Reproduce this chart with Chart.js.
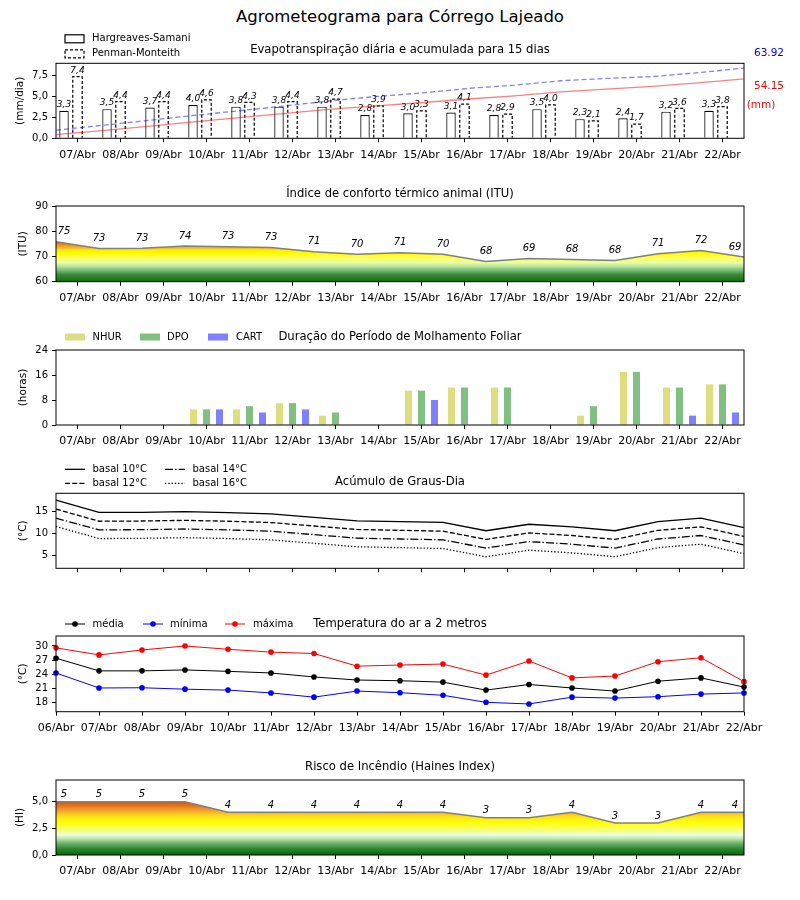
<!DOCTYPE html>
<html>
<head>
<meta charset="utf-8">
<script src="https://cdn.jsdelivr.net/npm/chart.js@4.4.0/dist/chart.umd.min.js"></script>
<style>
  body { margin: 0; background: #fff; width: 800px; height: 900px; position: relative; overflow: hidden; font-family: "DejaVu Sans", sans-serif; }
  #title { position: absolute; top: 7px; left: 0; width: 800px; text-align: center; font-size: 16.5px; color: #000; }
  canvas { position: absolute; left: 0; }
</style>
</head>
<body>
<div id="title">Agrometeograma para Córrego Lajeado</div>
<canvas id="c1"></canvas>
<canvas id="c1b"></canvas>
<canvas id="c2"></canvas>
<canvas id="c3"></canvas>
<canvas id="c4"></canvas>
<canvas id="c5"></canvas>
<canvas id="c6"></canvas>
<script>
// ── Data ───────────────────────────────────────────
const DAYS = ['07/Abr', '08/Abr', '09/Abr', '10/Abr', '11/Abr', '12/Abr', '13/Abr', '14/Abr',
              '15/Abr', '16/Abr', '17/Abr', '18/Abr', '19/Abr', '20/Abr', '21/Abr', '22/Abr'];
const DAYS17 = ['06/Abr'].concat(DAYS);

// evapotranspiration (mm/dia) and accumulated (mm)
const etHargreaves = [3.3, 3.5, 3.7, 4.0, 3.8, 3.8, 3.8, 2.8, 3.0, 3.1, 2.8, 3.5, 2.3, 2.4, 3.2, 3.3];
const etPenman     = [7.4, 4.4, 4.4, 4.6, 4.3, 4.4, 4.7, 3.9, 3.3, 4.1, 2.9, 4.0, 2.1, 1.7, 3.6, 3.8];
const accHargreaves = [3.4, 7.0, 10.8, 14.9, 18.8, 22.7, 26.6, 29.5, 32.6, 35.8, 38.7, 42.3, 44.7, 47.2, 50.5, 54.15];
const accPenman     = [7.4, 11.8, 16.2, 20.8, 25.1, 29.5, 34.2, 38.1, 41.4, 45.5, 48.4, 52.4, 54.5, 56.2, 59.8, 63.92];

// thermal comfort index
const itu = [75.8, 73.2, 73.3, 74.1, 73.9, 73.6, 71.9, 70.9, 71.5, 70.9, 68.0, 69.2, 68.8, 68.4, 71.1, 72.4, 69.8];

// leaf wetness (horas)
const wetNhur = [0, 0, 0, 5, 5, 7, 3, 0, 11, 12, 12, 0, 3, 17, 12, 13];
const wetDpo  = [0, 0, 0, 5, 6, 7, 4, 0, 11, 12, 12, 0, 6, 17, 12, 13];
const wetCart = [0, 0, 0, 5, 4, 5, 0, 0, 8, 0, 0, 0, 0, 0, 3, 4];

// degree days
const gd10 = [17.7, 14.85, 14.85, 15.0, 14.8, 14.5, 13.7, 12.9, 12.7, 12.55, 10.6, 12.1, 11.5, 10.6, 12.7, 13.5, 11.3];
const gd12 = [15.6, 12.8, 12.85, 13.0, 12.8, 12.5, 11.7, 10.9, 10.7, 10.5, 8.6, 10.1, 9.5, 8.6, 10.7, 11.5, 9.3];
const gd14 = [13.5, 10.8, 10.85, 11.0, 10.8, 10.5, 9.7, 8.9, 8.7, 8.5, 6.6, 8.1, 7.5, 6.6, 8.7, 9.5, 7.3];
const gd16 = [11.6, 8.8, 8.85, 9.0, 8.8, 8.5, 7.7, 6.9, 6.7, 6.5, 4.6, 6.1, 5.5, 4.6, 6.7, 7.5, 5.3];

// air temperature (°C)
const tMed = [27.4, 24.7, 24.7, 24.9, 24.6, 24.25, 23.4, 22.75, 22.6, 22.3, 20.6, 21.8, 21.05, 20.4, 22.5, 23.2, 21.25];
const tMin = [24.25, 21.05, 21.1, 20.8, 20.6, 20.0, 19.1, 20.4, 20.05, 19.5, 18.0, 17.65, 19.1, 18.9, 19.2, 19.75, 20.0];
const tMax = [29.6, 28.1, 29.15, 30.0, 29.3, 28.7, 28.4, 25.7, 25.95, 26.15, 23.8, 26.8, 23.2, 23.6, 26.65, 27.5, 22.4];

// Haines index
const haines = [5, 5, 5, 5, 4, 4, 4, 4, 4, 4, 3.5, 3.5, 4, 3, 3, 4, 4];

// tick values
const etTicks   = [0, 2.5, 5, 7.5];
const ituTicks  = [60, 70, 80, 90];
const wetTicks  = [0, 8, 16, 24];
const gdTicks   = [5, 10, 15];
const tempTicks = [18, 21, 24, 27, 30];
const hiTicks   = [0, 2.5, 5];

// ── Styles ─────────────────────────────────────────
const FONT = '"DejaVu Sans"';
Chart.defaults.font.family = FONT;
Chart.defaults.font.size = 10;
Chart.defaults.color = '#000';
Chart.defaults.animation = false;

const ituStops = [[60, '#0a640a'], [61, '#1e7a1e'], [62.8, '#3a8a3a'], [64.7, '#80bf80'], [66.3, '#c0e8a0'],
                  [67.6, '#eaffa0'], [69.4, '#ffff60'], [71, '#ffff00'], [72.4, '#ffee00'], [73.2, '#f8c030'],
                  [74.2, '#f0a020'], [75.3, '#e07818'], [76, '#d86a10']];
const hiStops = [[0, '#0a640a'], [0.6, '#2e8a2e'], [1.1, '#70b070'], [1.56, '#c0e8b0'], [1.9, '#f0ffe0'],
                 [2.2, '#f0ff90'], [2.65, '#ffff40'], [3.1, '#ffff00'], [3.6, '#ffe020'], [3.9, '#f8c020'],
                 [4.2, '#f0a030'], [4.5, '#e88020'], [4.85, '#d86010'], [5.1, '#d05a10']];

const comma = v => v.toFixed(1).replace('.', ',');
const X_AXIS_H = 28;

// ── Helpers ────────────────────────────────────────
function setup(id, p) {
  const c = document.getElementById(id);
  c.width = 800; c.height = p.height;
  c.style.top = p.top + 'px';
  return c.getContext('2d');
}

function padding(p) {
  return { left: 0, right: 56, top: p.areaTop - p.top, bottom: p.top + p.height - p.areaBottom - X_AXIS_H };
}

function yAxis(min, max, ticks, fmt, title, titlePad) {
  return {
    min, max,
    afterBuildTicks: s => { s.ticks = ticks.map(v => ({ value: v })); },
    afterFit: s => { s.width = 56; },
    ticks: { callback: v => fmt(v), padding: 4, font: { size: 10 } },
    grid: { drawOnChartArea: false, drawTicks: true, tickLength: 4, color: '#000' },
    border: { display: false },
    title: { display: true, text: title, padding: { top: titlePad, bottom: 0 }, font: { size: 10.5 } }
  };
}

function xAxis(labels, offset, showLabels) {
  return {
    type: 'category', labels, offset, position: 'bottom',
    afterFit: s => { s.height = X_AXIS_H; },
    grid: { offset: false, drawOnChartArea: false, drawTicks: true, tickLength: 4, color: '#000' },
    border: { display: false },
    ticks: {
      font: { size: 11 }, padding: 6, maxRotation: 0, autoSkip: false,
      callback: function (v) { return showLabels ? this.getLabelForValue(v) : ''; }
    }
  };
}

function hiddenX(labels) {
  return { type: 'category', labels, offset: false, display: false, position: 'bottom' };
}

function gradientFill(stops) {
  return function (c) {
    const chart = c.chart;
    const ys = chart.scales.y;
    if (!chart.chartArea || !ys) return 'rgba(0,0,0,0)';
    const v0 = stops[0][0], v1 = stops[stops.length - 1][0];
    const g = chart.ctx.createLinearGradient(0, ys.getPixelForValue(v0), 0, ys.getPixelForValue(v1));
    stops.forEach(s => g.addColorStop((s[0] - v0) / (v1 - v0), s[1]));
    return g;
  };
}

function drawLegend(ctx, items, top) {
  items.forEach(it => {
    const y = it.y - top;
    ctx.save();
    if (it.kind === 'box') {
      ctx.fillStyle = '#fff'; ctx.strokeStyle = '#000'; ctx.lineWidth = 1.2;
      ctx.setLineDash(it.dash || []);
      ctx.fillRect(it.x, y - 4, 19, 8);
      ctx.strokeRect(it.x, y - 4, 19, 8);
    } else if (it.kind === 'swatch') {
      ctx.fillStyle = it.color;
      ctx.fillRect(it.x, y - 3.5, 20, 7);
    } else {
      ctx.strokeStyle = it.color; ctx.lineWidth = it.width || 1.3;
      ctx.setLineDash(it.dash || []);
      ctx.beginPath(); ctx.moveTo(it.x, y); ctx.lineTo(it.x + 20, y); ctx.stroke();
      if (it.marker) {
        ctx.setLineDash([]); ctx.fillStyle = it.color;
        ctx.beginPath(); ctx.arc(it.x + 10, y, 2.8, 0, Math.PI * 2); ctx.fill();
      }
    }
    ctx.restore();
    ctx.fillStyle = '#000';
    ctx.font = '10px ' + FONT;
    ctx.textAlign = 'left'; ctx.textBaseline = 'middle';
    ctx.fillText(it.text, it.tx, y);
  });
}

// frame, title, legend and extra texts of one panel
function decor(p, title, titleY, legend, extra) {
  return {
    id: 'decor',
    afterDraw(chart) {
      const ctx = chart.ctx, a = chart.chartArea;
      ctx.save();
      ctx.strokeStyle = '#000'; ctx.lineWidth = 1;
      ctx.strokeRect(a.left, a.top, a.right - a.left, a.bottom - a.top);
      ctx.fillStyle = '#000';
      ctx.font = '11.6px ' + FONT;
      ctx.textAlign = 'center'; ctx.textBaseline = 'middle';
      ctx.fillText(title, (a.left + a.right) / 2, titleY - p.top);
      drawLegend(ctx, legend, p.top);
      if (extra) extra(chart, ctx);
      ctx.restore();
    }
  };
}

// floor labels above an index line
function lineLabels(offsetY, size) {
  return function (chart, ctx) {
    const meta = chart.getDatasetMeta(0);
    const vals = chart.data.datasets[0].data;
    ctx.font = 'italic ' + size + 'px ' + FONT;
    ctx.textAlign = 'center'; ctx.textBaseline = 'middle';
    ctx.fillStyle = '#000';
    meta.data.forEach((pt, i) => {
      let x = pt.x;
      if (i === 0) x += 8;
      if (i === meta.data.length - 1) x -= 9;
      ctx.fillText(String(Math.floor(vals[i])), x, pt.y - offsetY);
    });
  };
}

// ── Panel 1: Evapotranspiração (daily bars) ────────
const p1 = { top: 25, height: 145, areaTop: 63.3, areaBottom: 138.3 };
new Chart(setup('c1', p1), {
  type: 'bar',
  data: {
    labels: DAYS,
    datasets: [
      { label: 'Hargreaves-Samani', data: etHargreaves, backgroundColor: '#fff', borderColor: '#000', borderWidth: 1.2 },
      { label: 'Penman-Monteith', data: etPenman, backgroundColor: '#fff', borderWidth: 0 },
      { label: '', data: etPenman.map(() => 0), backgroundColor: 'rgba(0,0,0,0)', borderWidth: 0 }
    ]
  },
  options: {
    responsive: false,
    layout: { padding: padding(p1) },
    datasets: { bar: { categoryPercentage: 0.942, barPercentage: 0.7 } },
    plugins: { legend: { display: false }, tooltip: { enabled: false } },
    scales: {
      x: xAxis(DAYS, true, true),
      y: yAxis(0, 9, etTicks, comma, '(mm/dia)', 14)
    }
  },
  plugins: [{
    id: 'etBars',
    afterDatasetsDraw(chart) {
      const ctx = chart.ctx;
      ctx.save();
      // dashed outline of Penman-Monteith bars
      ctx.strokeStyle = '#000'; ctx.lineWidth = 1.2; ctx.setLineDash([3, 2]);
      chart.getDatasetMeta(1).data.forEach(b => {
        const l = b.x - b.width / 2, r = b.x + b.width / 2;
        ctx.beginPath();
        ctx.moveTo(l, b.base); ctx.lineTo(l, b.y); ctx.lineTo(r, b.y); ctx.lineTo(r, b.base);
        ctx.stroke();
      });
      ctx.setLineDash([]);
      ctx.font = 'italic 9px ' + FONT;
      ctx.textAlign = 'center'; ctx.textBaseline = 'bottom'; ctx.fillStyle = '#000';
      [0, 1].forEach(d => {
        const vals = chart.data.datasets[d].data;
        chart.getDatasetMeta(d).data.forEach((b, i) => ctx.fillText(comma(vals[i]), b.x, b.y - 1.5));
      });
      ctx.restore();
    }
  }, decor(p1, 'Evapotranspiração diária e acumulada para 15 dias', 50, [
    { kind: 'box', x: 65, y: 38.8, text: 'Hargreaves-Samani', tx: 92 },
    { kind: 'box', x: 65, y: 53.8, dash: [3, 2], text: 'Penman-Monteith', tx: 92 }
  ], (chart, ctx) => {
    ctx.font = '10.5px ' + FONT;
    ctx.textAlign = 'center'; ctx.textBaseline = 'middle';
    ctx.fillStyle = '#0000ff';
    ctx.fillText(accPenman[accPenman.length - 1].toFixed(2), 769, 53 - p1.top);
    ctx.fillStyle = '#ff0000';
    ctx.fillText(accHargreaves[accHargreaves.length - 1].toFixed(2), 769, 86 - p1.top);
    ctx.fillText('(mm)', 761, 105 - p1.top);
  })]
});

// ── Panel 1: accumulated lines (overlay, same plot area) ──
new Chart(setup('c1b', p1), {
  type: 'line',
  data: {
    labels: DAYS,
    datasets: [
      { label: 'acumulada HS', data: accHargreaves, borderColor: 'rgba(255,0,0,0.5)', borderWidth: 1.3,
        pointRadius: 0, tension: 0, fill: false },
      { label: 'acumulada PM', data: accPenman, borderColor: 'rgba(0,0,255,0.5)', borderWidth: 1.3,
        borderDash: [5, 3], pointRadius: 0, tension: 0, fill: false }
    ]
  },
  options: {
    responsive: false,
    layout: { padding: { left: 56, right: 56, top: p1.areaTop - p1.top, bottom: p1.top + p1.height - p1.areaBottom } },
    plugins: { legend: { display: false }, tooltip: { enabled: false } },
    scales: {
      x: hiddenX(DAYS),
      y: { min: 0, max: 68.3, display: false }
    }
  }
});

// ── Panel 2: ITU ───────────────────────────────────
const p2 = { top: 175, height: 135, areaTop: 206, areaBottom: 281.7 };
new Chart(setup('c2', p2), {
  type: 'line',
  data: {
    datasets: [{ label: 'ITU', data: itu, xAxisID: 'x', borderColor: '#808080', borderWidth: 1.5,
                 pointRadius: 0, tension: 0, fill: 'start', backgroundColor: gradientFill(ituStops) }]
  },
  options: {
    responsive: false,
    layout: { padding: padding(p2) },
    plugins: { legend: { display: false }, tooltip: { enabled: false } },
    scales: {
      x: hiddenX(DAYS17),
      xt: xAxis(DAYS, true, true),
      y: yAxis(60, 90, ituTicks, v => String(v), '(ITU)', 17)
    }
  },
  plugins: [decor(p2, 'Índice de conforto térmico animal (ITU)', 194, [], lineLabels(10, 10))]
});

// ── Panel 3: Molhamento foliar ─────────────────────
const p3 = { top: 320, height: 135, areaTop: 350, areaBottom: 425 };
new Chart(setup('c3', p3), {
  type: 'bar',
  data: {
    labels: DAYS,
    datasets: [
      { label: 'NHUR', data: wetNhur, backgroundColor: '#dede80' },
      { label: 'DPO', data: wetDpo, backgroundColor: '#80c080' },
      { label: 'CART', data: wetCart, backgroundColor: '#8080ff' }
    ]
  },
  options: {
    responsive: false,
    layout: { padding: padding(p3) },
    datasets: { bar: { categoryPercentage: 0.907, barPercentage: 0.54, borderWidth: 0 } },
    plugins: { legend: { display: false }, tooltip: { enabled: false } },
    scales: {
      x: xAxis(DAYS, true, true),
      y: yAxis(0, 24, wetTicks, v => String(v), '(horas)', 17)
    }
  },
  plugins: [decor(p3, 'Duração do Período de Molhamento Foliar', 337, [
    { kind: 'swatch', x: 65, y: 337, color: '#dede80', text: 'NHUR', tx: 92.5 },
    { kind: 'swatch', x: 140, y: 337, color: '#80c080', text: 'DPO', tx: 167 },
    { kind: 'swatch', x: 208, y: 337, color: '#8080ff', text: 'CART', tx: 236 }
  ])]
});

// ── Panel 4: Graus-dia ─────────────────────────────
const p4 = { top: 458, height: 142, areaTop: 493.3, areaBottom: 568.3 };
const gdLine = (label, data, dash) => ({ label, data, xAxisID: 'x', borderColor: '#000', borderWidth: 1.3,
                                          borderDash: dash, pointRadius: 0, tension: 0, fill: false });
new Chart(setup('c4', p4), {
  type: 'line',
  data: {
    datasets: [
      gdLine('basal 10°C', gd10, []),
      gdLine('basal 12°C', gd12, [5, 2.2]),
      gdLine('basal 14°C', gd14, [8, 2.2, 1.3, 2.2]),
      gdLine('basal 16°C', gd16, [1.3, 2])
    ]
  },
  options: {
    responsive: false,
    layout: { padding: padding(p4) },
    plugins: { legend: { display: false }, tooltip: { enabled: false } },
    scales: {
      x: hiddenX(DAYS17),
      xt: xAxis(DAYS, true, false),
      y: yAxis(1.93, 19.25, gdTicks, v => String(v), '(°C)', 17)
    }
  },
  plugins: [decor(p4, 'Acúmulo de Graus-Dia', 481.5, [
    { kind: 'line', x: 65, y: 469.3, color: '#000', text: 'basal 10°C', tx: 92.5 },
    { kind: 'line', x: 65, y: 483.3, color: '#000', dash: [5, 2.2], text: 'basal 12°C', tx: 92.5 },
    { kind: 'line', x: 165, y: 469.3, color: '#000', dash: [8, 2.2, 1.3, 2.2], text: 'basal 14°C', tx: 192.5 },
    { kind: 'line', x: 165, y: 483.3, color: '#000', dash: [1.3, 2], text: 'basal 16°C', tx: 192.5 }
  ])]
});

// ── Panel 5: Temperatura ───────────────────────────
const p5 = { top: 605, height: 140, areaTop: 636, areaBottom: 711.7 };
const tLine = (label, data, color) => ({ label, data, borderColor: color, backgroundColor: color, borderWidth: 1,
                                         pointRadius: 2.8, pointBorderWidth: 0, pointBackgroundColor: color, tension: 0, fill: false });
new Chart(setup('c5', p5), {
  type: 'line',
  data: {
    labels: DAYS17,
    datasets: [tLine('média', tMed, '#000'), tLine('mínima', tMin, '#0000ff'), tLine('máxima', tMax, '#ff0000')]
  },
  options: {
    responsive: false,
    layout: { padding: padding(p5) },
    plugins: { legend: { display: false }, tooltip: { enabled: false } },
    scales: {
      x: xAxis(DAYS17, false, true),
      y: yAxis(16.0, 32.13, tempTicks, v => String(v), '(°C)', 17)
    }
  },
  plugins: [decor(p5, 'Temperatura do ar a 2 metros', 624, [
    { kind: 'line', x: 65, y: 624, color: '#000', width: 1, marker: true, text: 'média', tx: 92.5 },
    { kind: 'line', x: 143, y: 624, color: '#0000ff', width: 1, marker: true, text: 'mínima', tx: 170 },
    { kind: 'line', x: 225, y: 624, color: '#ff0000', width: 1, marker: true, text: 'máxima', tx: 253 }
  ])]
});

// ── Panel 6: Haines ────────────────────────────────
const p6 = { top: 750, height: 150, areaTop: 780, areaBottom: 855 };
new Chart(setup('c6', p6), {
  type: 'line',
  data: {
    datasets: [{ label: 'HI', data: haines, xAxisID: 'x', borderColor: '#808080', borderWidth: 1.5,
                 pointRadius: 0, tension: 0, fill: 'start', backgroundColor: gradientFill(hiStops) }]
  },
  options: {
    responsive: false,
    layout: { padding: padding(p6) },
    plugins: { legend: { display: false }, tooltip: { enabled: false } },
    scales: {
      x: hiddenX(DAYS17),
      xt: xAxis(DAYS, true, true),
      y: yAxis(0, 7.03, hiTicks, comma, '(HI)', 13.5)
    }
  },
  plugins: [decor(p6, 'Risco de Incêndio (Haines Index)', 767, [], lineLabels(7, 10))]
});
</script>
</body>
</html>
